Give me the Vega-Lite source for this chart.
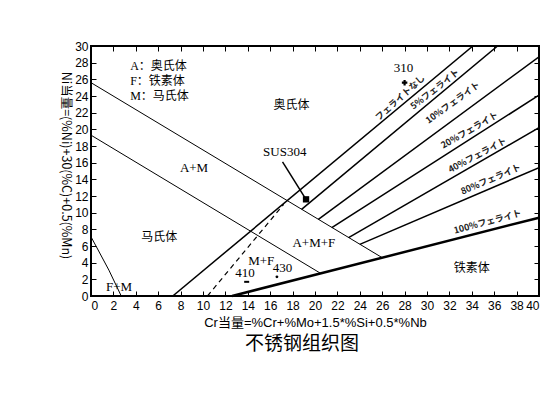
{
  "$schema": "https://vega.github.io/schema/vega-lite/v6.json",
  "width": 448,
  "height": 250,
  "autosize": "none",
  "padding": {"left": 91, "top": 46, "right": 20, "bottom": 97},
  "background": "white",
  "title": {"text": "不锈钢组织图", "orient": "bottom", "anchor": "middle", "font": "Noto Sans CJK SC", "fontSize": 19, "fontWeight": "normal", "color": "black", "offset": 6, "dx": -13},
  "config": {
    "view": {"stroke": "black", "strokeWidth": 2},
    "axis": {"grid": false, "domain": false, "tickColor": "black", "tickWidth": 1, "labelColor": "black", "labelFont": "Liberation Sans", "labelFontSize": 12, "titleColor": "black"}
  },
  "datasets": {
    "lines": [
      {"id": "L1", "x": 0, "y": 25.6}, {"id": "L1", "x": 26.0, "y": 4.6},
      {"id": "L2", "x": 0, "y": 19.3}, {"id": "L2", "x": 20.5, "y": 2.72},
      {"id": "FM", "x": 0, "y": 7.1}, {"id": "FM", "x": 0.54, "y": 5.76}, {"id": "FM", "x": 1.6, "y": 3.1}, {"id": "FM", "x": 2.7, "y": 0},
      {"id": "L3", "x": 12.6, "y": 0}, {"id": "L3", "x": 40, "y": 9.4},
      {"id": "f0", "x": 7.3, "y": 0}, {"id": "f0", "x": 34.1, "y": 30},
      {"id": "f5", "x": 18.8, "y": 10.4}, {"id": "f5", "x": 36.3, "y": 30},
      {"id": "f10", "x": 20.3, "y": 9.2}, {"id": "f10", "x": 40, "y": 28.7},
      {"id": "f20", "x": 21.5, "y": 8.2}, {"id": "f20", "x": 40, "y": 24.1},
      {"id": "f40", "x": 23.0, "y": 7.0}, {"id": "f40", "x": 40, "y": 20.2},
      {"id": "f80", "x": 24.0, "y": 6.2}, {"id": "f80", "x": 40, "y": 15.4},
      {"id": "dash", "x": 10.4, "y": 0}, {"id": "dash", "x": 17.2, "y": 11.0},
      {"id": "arrow", "x": 17.1, "y": 16.1}, {"id": "arrow", "x": 19.1, "y": 11.8}
    ],
    "serif": [
      {"t": "A+M", "x": 9.2, "y": 15.4},
      {"t": "A+M+F", "x": 19.9, "y": 6.4},
      {"t": "M+F", "x": 15.2, "y": 4.2},
      {"t": "410", "x": 13.75, "y": 2.8},
      {"t": "430", "x": 17.1, "y": 3.4},
      {"t": "F+M", "x": 2.5, "y": 1.1},
      {"t": "SUS304", "x": 17.3, "y": 17.3},
      {"t": "310", "x": 27.9, "y": 27.4}
    ],
    "cjk": [
      {"t": "奥氏体", "x": 17.9, "y": 22.9},
      {"t": "马氏体", "x": 6.1, "y": 7.1},
      {"t": "铁素体", "x": 34.0, "y": 3.4}
    ],
    "legend": [
      {"t": "A：奥氏体", "x": 3.5, "y": 27.6},
      {"t": "F：铁素体", "x": 3.5, "y": 25.8},
      {"t": "M：马氏体", "x": 3.5, "y": 24.0}
    ]
  },
  "layer": [
    {
      "data": {"name": "lines"},
      "transform": [{"filter": "datum.id == 'L1' || datum.id == 'L2' || datum.id == 'FM'"}],
      "mark": {"type": "line", "color": "black", "strokeWidth": 1},
      "encoding": {
        "x": {"field": "x", "type": "quantitative", "scale": {"domain": [0, 40], "nice": false},
              "axis": {"orient": "bottom", "values": [0,2,4,6,8,10,12,14,16,18,20,22,24,26,28,30,32,34,36,38,40], "tickSize": -5, "labelPadding": 9,
                       "title": "Cr当量=%Cr+%Mo+1.5*%Si+0.5*%Nb", "titleFont": "Liberation Sans, Noto Sans CJK SC", "titleFontSize": 13, "titleFontWeight": "normal", "titlePadding": 5}},
        "y": {"field": "y", "type": "quantitative", "scale": {"domain": [0, 30], "nice": false},
              "axis": {"orient": "left", "values": [0,2,4,6,8,10,12,14,16,18,20,22,24,26,28,30], "tickSize": -5, "labelPadding": 8,
                       "title": "Ni当量=(%Ni)+30(%C)+0.5(%Mn)", "titleFont": "Noto Sans CJK SC", "titleFontSize": 12.5, "titleFontWeight": "normal", "titleAngle": 90, "titleAlign": "center", "titleBaseline": "middle", "titleX": -26, "titleY": 119}},
        "detail": {"field": "id"},
        "order": {"field": "x", "type": "quantitative"}
      }
    },
    {
      "data": {"name": "lines"},
      "transform": [{"filter": "indexof(['f0','f5','f10','f20','f40','f80'], datum.id) >= 0"}],
      "mark": {"type": "line", "color": "black", "strokeWidth": 1.5, "clip": true},
      "encoding": {
        "x": {"field": "x", "type": "quantitative", "scale": {"domain": [0, 40], "nice": false},
              "axis": {"orient": "top", "values": [0,2,4,6,8,10,12,14,16,18,20,22,24,26,28,30,32,34,36,38,40], "tickSize": -5, "labels": false, "title": null}},
        "y": {"field": "y", "type": "quantitative", "scale": {"domain": [0, 30], "nice": false},
              "axis": {"orient": "right", "values": [0,2,4,6,8,10,12,14,16,18,20,22,24,26,28,30], "tickSize": -5, "labels": false, "title": null}},
        "detail": {"field": "id"},
        "order": {"field": "x", "type": "quantitative"}
      }
    },
    {
      "data": {"name": "lines"},
      "transform": [{"filter": "datum.id == 'L3'"}],
      "mark": {"type": "line", "color": "black", "strokeWidth": 2.5},
      "encoding": {
        "x": {"field": "x", "type": "quantitative", "axis": null},
        "y": {"field": "y", "type": "quantitative", "axis": null},
        "order": {"field": "x", "type": "quantitative"}
      }
    },
    {
      "data": {"name": "lines"},
      "transform": [{"filter": "datum.id == 'dash'"}],
      "mark": {"type": "line", "color": "black", "strokeWidth": 1.2, "strokeDash": [5, 4]},
      "encoding": {
        "x": {"field": "x", "type": "quantitative", "axis": null},
        "y": {"field": "y", "type": "quantitative", "axis": null},
        "order": {"field": "x", "type": "quantitative"}
      }
    },
    {
      "data": {"name": "lines"},
      "transform": [{"filter": "datum.id == 'arrow'"}],
      "mark": {"type": "line", "color": "black", "strokeWidth": 1.5},
      "encoding": {
        "x": {"field": "x", "type": "quantitative", "axis": null},
        "y": {"field": "y", "type": "quantitative", "axis": null},
        "order": {"field": "x", "type": "quantitative"}
      }
    },
    {
      "data": {"values": [{"x": 19.2, "y": 11.6}]},
      "mark": {"type": "square", "color": "black", "filled": true, "size": 40, "opacity": 1},
      "encoding": {
        "x": {"field": "x", "type": "quantitative", "axis": null},
        "y": {"field": "y", "type": "quantitative", "axis": null}
      }
    },
    {
      "data": {"values": [{"x": 28.0, "y": 25.6}]},
      "mark": {"type": "point", "shape": "cross", "color": "black", "filled": true, "size": 30, "opacity": 1},
      "encoding": {
        "x": {"field": "x", "type": "quantitative", "axis": null},
        "y": {"field": "y", "type": "quantitative", "axis": null}
      }
    },
    {
      "data": {"values": [{"x": 16.6, "y": 2.3}]},
      "mark": {"type": "circle", "color": "black", "size": 8, "opacity": 1},
      "encoding": {
        "x": {"field": "x", "type": "quantitative", "axis": null},
        "y": {"field": "y", "type": "quantitative", "axis": null}
      }
    },
    {
      "data": {"values": [{"x": 13.9, "y": 1.7}]},
      "mark": {"type": "tick", "color": "black", "orient": "horizontal", "size": 5, "thickness": 2, "opacity": 1},
      "encoding": {
        "x": {"field": "x", "type": "quantitative", "axis": null},
        "y": {"field": "y", "type": "quantitative", "axis": null}
      }
    },
    {
      "data": {"name": "serif"},
      "mark": {"type": "text", "font": "Liberation Serif", "fontSize": 13, "color": "black"},
      "encoding": {
        "x": {"field": "x", "type": "quantitative", "axis": null},
        "y": {"field": "y", "type": "quantitative", "axis": null},
        "text": {"field": "t"}
      }
    },
    {
      "data": {"name": "cjk"},
      "mark": {"type": "text", "font": "Noto Sans CJK SC", "fontSize": 12, "color": "black"},
      "encoding": {
        "x": {"field": "x", "type": "quantitative", "axis": null},
        "y": {"field": "y", "type": "quantitative", "axis": null},
        "text": {"field": "t"}
      }
    },
    {
      "data": {"name": "legend"},
      "mark": {"type": "text", "font": "Liberation Serif, Noto Sans CJK SC", "fontSize": 12, "color": "black", "align": "left"},
      "encoding": {
        "x": {"field": "x", "type": "quantitative", "axis": null},
        "y": {"field": "y", "type": "quantitative", "axis": null},
        "text": {"field": "t"}
      }
    },
    {
      "data": {"values": [{"t": "フェライトなし", "x": 27.6, "y": 23.8}]},
      "mark": {"type": "text", "font": "Noto Sans CJK JP", "fontSize": 9, "fontWeight": "bold", "color": "#222", "angle": 318},
      "encoding": {
        "x": {"field": "x", "type": "quantitative", "axis": null},
        "y": {"field": "y", "type": "quantitative", "axis": null},
        "text": {"field": "t"}
      }
    },
    {
      "data": {"values": [{"t": "5%フェライト", "x": 30.7, "y": 24.8}]},
      "mark": {"type": "text", "font": "Noto Sans CJK JP", "fontSize": 9, "fontWeight": "bold", "color": "#222", "angle": 322},
      "encoding": {
        "x": {"field": "x", "type": "quantitative", "axis": null},
        "y": {"field": "y", "type": "quantitative", "axis": null},
        "text": {"field": "t"}
      }
    },
    {
      "data": {"values": [{"t": "10%フェライト", "x": 32.3, "y": 23.2}]},
      "mark": {"type": "text", "font": "Noto Sans CJK JP", "fontSize": 9, "fontWeight": "bold", "color": "#222", "angle": 324},
      "encoding": {
        "x": {"field": "x", "type": "quantitative", "axis": null},
        "y": {"field": "y", "type": "quantitative", "axis": null},
        "text": {"field": "t"}
      }
    },
    {
      "data": {"values": [{"t": "20%フェライト", "x": 33.8, "y": 19.9}]},
      "mark": {"type": "text", "font": "Noto Sans CJK JP", "fontSize": 9, "fontWeight": "bold", "color": "#222", "angle": 330},
      "encoding": {
        "x": {"field": "x", "type": "quantitative", "axis": null},
        "y": {"field": "y", "type": "quantitative", "axis": null},
        "text": {"field": "t"}
      }
    },
    {
      "data": {"values": [{"t": "40%フェライト", "x": 34.5, "y": 16.9}]},
      "mark": {"type": "text", "font": "Noto Sans CJK JP", "fontSize": 9, "fontWeight": "bold", "color": "#222", "angle": 332},
      "encoding": {
        "x": {"field": "x", "type": "quantitative", "axis": null},
        "y": {"field": "y", "type": "quantitative", "axis": null},
        "text": {"field": "t"}
      }
    },
    {
      "data": {"values": [{"t": "80%フェライト", "x": 35.7, "y": 14.0}]},
      "mark": {"type": "text", "font": "Noto Sans CJK JP", "fontSize": 9, "fontWeight": "bold", "color": "#222", "angle": 337},
      "encoding": {
        "x": {"field": "x", "type": "quantitative", "axis": null},
        "y": {"field": "y", "type": "quantitative", "axis": null},
        "text": {"field": "t"}
      }
    },
    {
      "data": {"values": [{"t": "100%フェライト", "x": 35.4, "y": 8.9}]},
      "mark": {"type": "text", "font": "Noto Sans CJK JP", "fontSize": 9, "fontWeight": "bold", "color": "#222", "angle": 345},
      "encoding": {
        "x": {"field": "x", "type": "quantitative", "axis": null},
        "y": {"field": "y", "type": "quantitative", "axis": null},
        "text": {"field": "t"}
      }
    }
  ],
  "resolve": {"axis": {"x": "independent", "y": "independent"}}
}
